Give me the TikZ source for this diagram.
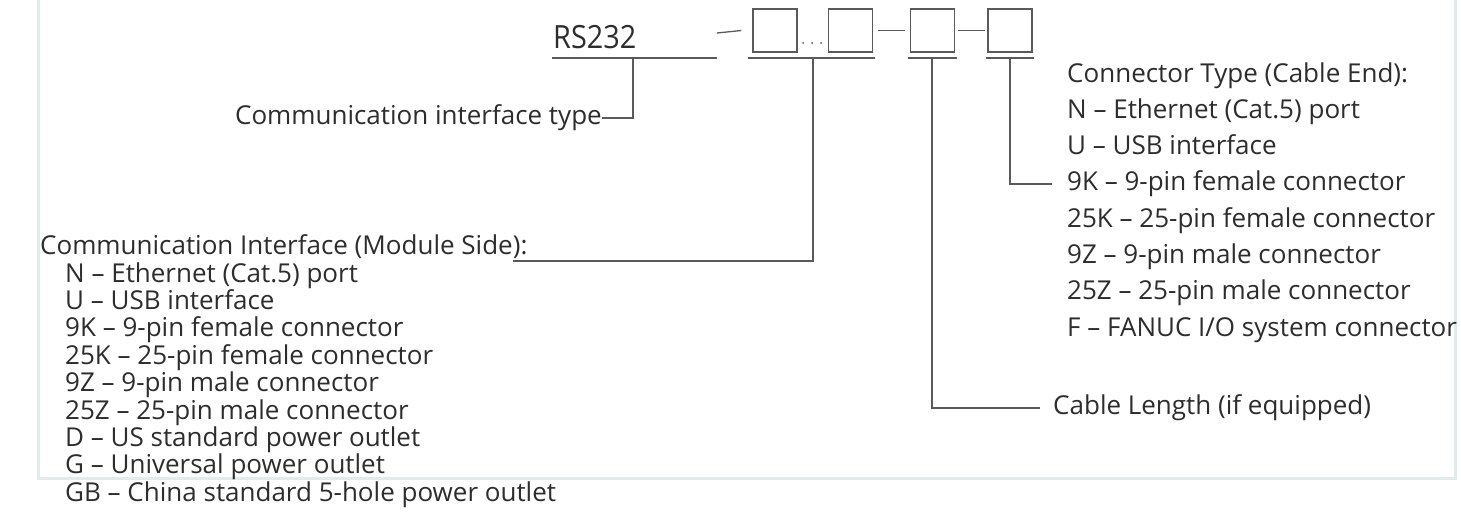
\documentclass[tikz,border=0pt]{standalone}
\usepackage{fontspec}
\setmainfont{Open Sans}
\usetikzlibrary{positioning,calc}
\definecolor{framecol}{RGB}{226,234,236}
\definecolor{linecol}{RGB}{90,90,90}
\definecolor{textcol}{RGB}{45,45,45}

\begin{document}
\begin{tikzpicture}[
    x=1pt, y=-1pt,
    codebox/.style={rectangle, draw=linecol, line width=1.3pt, minimum width=44pt, minimum height=43pt, inner sep=0pt},
    uline/.style={linecol, line width=1.8pt},
    lead/.style={linecol, line width=1.3pt},
    label/.style={font=\fontsize{26}{30}\selectfont, text=textcol, inner sep=0pt},
]
\useasboundingbox (0,0) rectangle (1461,520);
\draw[framecol, line width=3pt] (38,-10) rectangle (1455,478);

% code string
\node[font=\fontsize{32}{36}\selectfont, text=textcol, inner sep=0pt, anchor=base west] (rs) at (553,48) {\scalebox{0.9}[1]{RS232}};
\node[codebox] (b1) at (775,30.5) {};
\node[codebox] (b2) at (850.5,30.5) {};
\node[codebox] (b3) at (932.5,30.5) {};
\node[codebox] (b4) at (1010,30.5) {};

\draw[lead] (717,33) -- ([xshift=-11pt]b1.west);
\draw[lead] ([xshift=5pt]b2.east) -- ([xshift=-5pt]b3.west);
\draw[lead] ([xshift=3pt]b3.east) -- ([xshift=-2pt]b4.west);
\foreach \dx in {0,9,18}
  \fill[linecol] (803+\dx,43) circle (1pt);

% underlines
\coordinate (rsu) at (633,58);
\coordinate (u12) at (813,58);
\coordinate (u3) at (932,58);
\coordinate (u4) at (1010,58);
\draw[uline] (552,58) -- (717,58);
\draw[uline] (748,58) -- (875,58);
\draw[uline] (908,58) -- (957,58);
\draw[uline] (986,58) -- (1034,58);

% labels
\node[label, anchor=east] (typelbl) at (602,118) {Communication interface type};
\draw[lead] (typelbl.east) -| (rsu);

\node[label, anchor=base west] (modhead) at (40,254) {Communication Interface (Module Side):};
\foreach \t [count=\i from 0] in {N – Ethernet (Cat.5) port, U – USB interface, 9K – 9-pin female connector, 25K – 25-pin female connector, 9Z – 9-pin male connector, 25Z – 25-pin male connector, D – US standard power outlet, G – Universal power outlet, GB – China standard 5-hole power outlet}
  \node[label, anchor=base west] (mod\i) at (65,282+27.4*\i) {\t};
\coordinate (modend) at ([xshift=-15pt, yshift=-7pt]modhead.base east);
\draw[lead] (modend) -| (u12);

\node[label, anchor=base west] (ct0) at (1067,82) {Connector Type (Cable End):};
\foreach \t [count=\i from 1] in {N – Ethernet (Cat.5) port, U – USB interface, 9K – 9-pin female connector, 25K – 25-pin female connector, 9Z – 9-pin male connector, 25Z – 25-pin male connector, F – FANUC I/O system connector}
  \node[label, anchor=base west] (ct\i) at (1067,82+36.3*\i) {\t};
\draw[lead] (u4) |- ([xshift=-15pt]ct3.west);

\node[label, anchor=west] (cablelbl) at (1053,408) {Cable Length (if equipped)};
\draw[lead] (u3) |- ([xshift=-13pt]cablelbl.west);
\end{tikzpicture}
\end{document}
